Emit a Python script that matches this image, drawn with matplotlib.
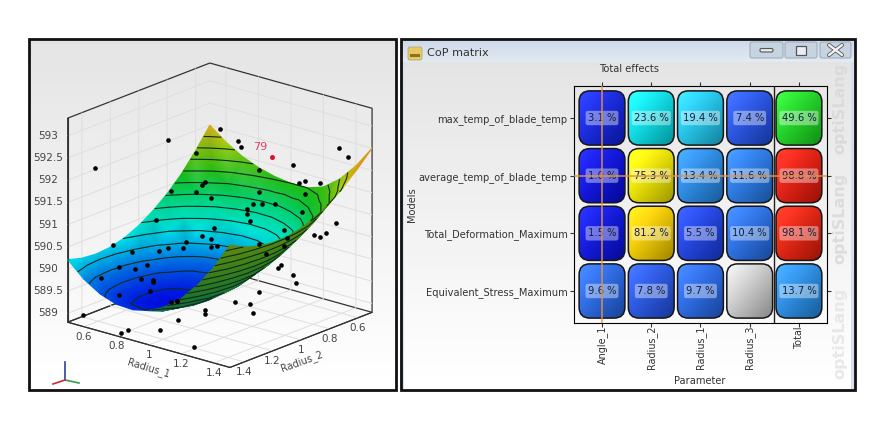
#!/usr/bin/env python
"""
Metamodel response surface and CoP matrix, two optiSLang screenshots side by side
"""

import numpy as np
import matplotlib as mpl
mpl.use('Agg')
from matplotlib import pyplot as pl
from matplotlib.colors import LinearSegmentedColormap
from matplotlib.patches import FancyBboxPatch, Rectangle
from matplotlib.tri import Triangulation
from mpl_toolkits.mplot3d import proj3d

mpl.rcParams.update({
    'font.family': 'DejaVu Sans',
    'font.size': 7,
    'grid.color': '#dedede',
    'grid.linewidth': 0.7,
    'axes.linewidth': 0.8,
})

# surface table, rows are Radius_2, columns Radius_1
radius_1 = [0.5, 0.6, 0.7, 0.8, 0.9, 1.0, 1.1, 1.2, 1.3, 1.4, 1.5]
radius_2 = [0.5, 0.6, 0.7, 0.8, 0.9, 1.0, 1.1, 1.2, 1.3, 1.4, 1.5]
surface = [
    [592.00, 591.72, 591.50, 591.35, 591.25, 591.20, 591.20, 591.32, 591.60, 592.00, 592.50],
    [591.55, 591.23, 590.97, 590.82, 590.73, 590.74, 590.86, 591.03, 591.31, 591.69, 592.17],
    [591.15, 590.82, 590.56, 590.40, 590.31, 590.33, 590.45, 590.65, 590.96, 591.36, 591.87],
    [590.83, 590.47, 590.20, 590.03, 589.95, 589.97, 590.10, 590.33, 590.65, 591.09, 591.63],
    [590.57, 590.18, 589.90, 589.73, 589.66, 589.69, 589.83, 590.08, 590.43, 590.88, 591.44],
    [590.36, 589.98, 589.71, 589.54, 589.48, 589.53, 589.67, 589.93, 590.29, 590.75, 591.32],
    [590.21, 589.84, 589.58, 589.42, 589.37, 589.42, 589.57, 589.83, 590.20, 590.67, 591.25],
    [590.12, 589.76, 589.51, 589.35, 589.31, 589.37, 589.53, 589.80, 590.17, 590.65, 591.24],
    [590.09, 589.74, 589.49, 589.35, 589.31, 589.38, 589.55, 589.82, 590.21, 590.69, 591.29],
    [590.12, 589.77, 589.53, 589.40, 589.37, 589.44, 589.62, 589.91, 590.30, 590.79, 591.39],
    [590.21, 589.87, 589.64, 589.51, 589.49, 589.57, 589.76, 590.05, 590.45, 590.95, 591.56],
]

# design points
pts_r1 = [0.59, 0.83, 1.00, 1.06, 1.07, 0.92, 1.39, 1.42, 1.24, 1.13, 1.26, 1.28, 1.33, 1.28,
          0.95, 0.94, 0.84, 0.92, 0.97, 1.13, 1.11, 1.14, 1.18, 1.09, 1.09, 1.27, 1.10, 0.79,
          0.98, 1.38, 1.21, 1.31, 1.33, 1.35, 1.22, 0.94, 0.97, 0.89, 0.97, 0.99, 1.13, 1.21,
          0.65, 0.83, 0.88, 0.80, 0.71, 1.15, 0.67, 0.72, 0.76, 1.20, 1.19, 0.61, 0.74, 0.78,
          0.78, 1.24, 1.25, 0.77, 0.67, 1.13, 0.84, 0.86, 0.86, 1.05, 1.10, 1.11, 0.95, 0.95,
          0.55, 0.90, 0.92, 0.81, 0.81, 1.26]
pts_r2 = [1.41, 1.17, 1.00, 0.94, 0.93, 1.08, 0.61, 0.58, 0.76, 0.87, 0.74, 0.72, 0.67, 0.72,
          1.05, 1.06, 1.16, 1.08, 1.03, 0.87, 0.89, 0.86, 0.82, 0.91, 0.91, 0.73, 0.90, 1.21,
          1.02, 0.62, 0.79, 0.69, 0.67, 0.65, 0.78, 1.06, 1.03, 1.11, 1.03, 1.01, 0.87, 0.79,
          1.35, 1.17, 1.12, 1.20, 1.29, 0.85, 1.33, 1.28, 1.24, 0.80, 0.81, 1.39, 1.26, 1.22,
          1.22, 0.76, 0.75, 1.23, 1.33, 0.87, 1.16, 1.14, 1.14, 0.95, 0.90, 0.89, 1.05, 1.05,
          1.45, 1.18, 1.33, 1.43, 1.48, 1.48]
pts_z = [592.26, 592.83, 593.04, 592.75, 592.63, 592.51, 592.52, 592.33, 592.18, 592.10, 591.76, 591.82, 591.76, 591.51,
         591.87, 591.79, 591.69, 591.64, 591.49, 591.60, 591.32, 591.33, 591.31, 591.21, 591.10, 591.11, 590.94, 591.04,
         590.82, 590.83, 590.71, 590.59, 590.53, 590.62, 590.54, 590.65, 590.56, 590.51, 590.40, 590.42, 590.42, 590.35,
         590.51, 590.39, 590.38, 590.33, 590.33, 590.19, 590.00, 589.95, 590.03, 589.94, 589.87, 589.77, 589.71, 589.70,
         589.65, 589.70, 589.52, 589.44, 589.37, 589.34, 589.19, 589.19, 589.20, 589.13, 589.07, 588.87, 588.98, 588.88,
         588.96, 588.85, 588.85, 588.85, 588.85, 589.00]
best_r1, best_r2, best_z = 1.17, 0.83, 592.37

r_ticks = [0.6, 0.8, 1, 1.2, 1.4]
r_ticklabels = ['0.6', '0.8', '1', '1.2', '1.4']
z_ticks = [589, 589.5, 590, 590.5, 591, 591.5, 592, 592.5, 593]
z_ticklabels = ['589', '589.5', '590', '590.5', '591', '591.5', '592', '592.5', '593']
contour_levels = [589.4, 589.6, 589.8, 590.0, 590.2, 590.4, 590.6, 590.8, 591.0, 591.2, 591.4, 591.6, 591.8]

# CoP matrix
models = ['max_temp_of_blade_temp', 'average_temp_of_blade_temp',
          'Total_Deformation_Maximum', 'Equivalent_Stress_Maximum']
parameters = ['Angle_1', 'Radius_2', 'Radius_1', 'Radius_3', 'Total']
cop = [[3.1, 23.6, 19.4, 7.4, 49.6],
       [1.0, 75.3, 13.4, 11.6, 98.8],
       [1.5, 81.2, 5.5, 10.4, 98.1],
       [9.6, 7.8, 9.7, None, 13.7]]

W, H = 891, 430
ELEV, AZIM = 19.2, 40.3
BOX = (657, 636, 646)
XLIM, YLIM, ZLIM = (0.5, 1.5), (0.5, 1.5), (588.8, 593.4)

surf_cmap = LinearSegmentedColormap.from_list('surf', [
    (0.00, '#0000e0'), (0.18, '#0070e0'), (0.34, '#00e8e8'), (0.50, '#00d890'),
    (0.66, '#10b810'), (0.80, '#70c010'), (0.92, '#e0d818'), (1.00, '#d89018')])
under_cmap = LinearSegmentedColormap.from_list('under', ['#0c6a40', '#2c7a20', '#5a8a10', '#8a8a20'])
cop_cmap = LinearSegmentedColormap.from_list('cop', [
    (0.00, '#0808e8'), (0.08, '#2a60f0'), (0.14, '#2a96f0'), (0.20, '#20d8f8'), (0.25, '#00f0f0'),
    (0.50, '#20e020'), (0.76, '#fff000'), (0.84, '#ffc800'), (1.00, '#f01010')])

fig = pl.figure(figsize=(W / 100, H / 100), dpi=100, facecolor='white')

# ---- background, frames and window chrome in pixel coordinates
bg = fig.add_axes([0, 0, 1, 1], zorder=0)
grad = np.linspace(0, 1, 64).reshape(-1, 1)
bg.imshow(228 + 27 * grad, cmap='gray', vmin=0, vmax=255, extent=(29, 396, 390, 39), aspect='auto')
bg.imshow(228 + 27 * grad, cmap='gray', vmin=0, vmax=255, extent=(404, 851, 390, 62), aspect='auto')
title_rgb = np.linspace([0.80, 0.85, 0.91], [0.89, 0.92, 0.95], 32).reshape(-1, 1, 3)
bg.imshow(title_rgb, extent=(401, 855, 62, 39), aspect='auto')
bg.add_patch(Rectangle((400, 62), 4, 328, fc='#d5dfea', ec='none'))
bg.add_patch(Rectangle((851, 62), 4, 328, fc='#d5dfea', ec='none'))
bg.add_patch(Rectangle((29, 39), 367, 351, fc='none', ec='#111111', lw=2))
bg.add_patch(Rectangle((400.5, 38.5), 454.5, 351.5, fc='none', ec='#111111', lw=2))
bg.add_patch(FancyBboxPatch((408, 47), 14, 13, boxstyle='round,pad=0,rounding_size=2',
                            fc='#e8c860', ec='#b0a880', lw=0.6))
bg.add_patch(Rectangle((410, 54), 10, 2.5, fc='#8a7020', ec='none'))
bg.text(427, 53, 'CoP matrix', fontsize=8.1, color='#333333', va='center')
for x0, x1 in [(750, 783), (785, 817), (820, 851)]:
    bg.add_patch(FancyBboxPatch((x0, 42), x1 - x0, 16, boxstyle='round,pad=0,rounding_size=2',
                                fc='#c6d4e2', ec='#9aa8b8', lw=0.7))
bg.add_patch(FancyBboxPatch((760, 48.5), 13, 3.5, boxstyle='round,pad=0,rounding_size=1.5',
                            fc='#e8e8e8', ec='#555555', lw=0.8))
bg.add_patch(Rectangle((796, 45.5), 10, 9, fc='#e8eef4', ec='#555555', lw=0.9))
bg.plot([829, 842], [45, 55], color='#666666', lw=3, solid_capstyle='round')
bg.plot([829, 842], [55, 45], color='#666666', lw=3, solid_capstyle='round')
bg.plot([829, 842], [45, 55], color='#f4f4f4', lw=1.6, solid_capstyle='round')
bg.plot([829, 842], [55, 45], color='#f4f4f4', lw=1.6, solid_capstyle='round')
for yc, wm in [(108, '#dadada'), (218, '#dcdcdc'), (333, '#e8e8e8')]:
    bg.text(840, yc, 'optiSLang', rotation=90, fontsize=11.5, fontweight='bold', color=wm,
            ha='center', va='center')
# little coordinate triad
bg.plot([65, 65], [380, 362], color='#3040a0', lw=1.2)
bg.plot([65, 79], [380, 383], color='#30a040', lw=1.2)
bg.plot([65, 53], [380, 384], color='#c03030', lw=1.2)
bg.set_xlim(0, W)
bg.set_ylim(H, 0)
bg.axis('off')

# ---- box and grid of the response surface, tick labels go on the overlay
ax3 = fig.add_axes([0.0003, -0.014, 0.48, 1.0], projection='3d', proj_type='ortho', zorder=1)
ax3.patch.set_alpha(0)
ax3.view_init(elev=ELEV, azim=AZIM)
ax3.set_box_aspect(BOX, zoom=0.85)
ax3.set_xlim(*XLIM)
ax3.set_ylim(*YLIM)
ax3.set_zlim(*ZLIM)
ax3.set_xticks(r_ticks)
ax3.set_yticks(r_ticks)
ax3.set_zticks(z_ticks)
ax3.set_xticklabels([])
ax3.set_yticklabels([])
ax3.set_zticklabels([])
for axis in (ax3.xaxis, ax3.yaxis, ax3.zaxis):
    axis.pane.set_facecolor((1, 1, 1, 0))
    axis.pane.set_alpha(None)
    axis.pane.set_edgecolor('#333333')
    axis.pane.set_linewidth(0.9)
    axis.line.set_color('#333333')
    axis._axinfo['tick']['inward_factor'] = 0
    axis._axinfo['tick']['outward_factor'] = 0

fig.canvas.draw()


def to_pixels(r2, r1, z):
    # project data through the 3d axes into figure pixels
    px, py, _ = proj3d.proj_transform(np.asarray(r2, float), np.asarray(r1, float), np.asarray(z, float), ax3.get_proj())
    return ax3.transData.transform(np.column_stack([px, py])).T


# ---- surface, drawn on a flat overlay so the colours can be gouraud shaded
mesh = fig.add_axes([0, 0, 1, 1], zorder=1.5)
mesh.patch.set_alpha(0)
mesh.axis('off')

R1, R2 = np.meshgrid(radius_1, radius_2)
Z = np.array(surface)
sx, sy = to_pixels(R2.ravel(), R1.ravel(), Z.ravel())
nr, nc = Z.shape


def signed_area(a, b, c, d):
    xs, ys = sx[[a, b, c, d]], sy[[a, b, c, d]]
    return 0.5 * np.sum(xs * np.roll(ys, -1) - np.roll(xs, -1) * ys)


top_side = np.sign(signed_area(7 * nc + 4, 7 * nc + 5, 8 * nc + 5, 8 * nc + 4))
top_tris, under_tris = [], []
for i in range(nr - 1):
    for j in range(nc - 1):
        a, b, c, d = i * nc + j, i * nc + j + 1, (i + 1) * nc + j + 1, (i + 1) * nc + j
        target = top_tris if signed_area(a, b, c, d) * top_side > 0 else under_tris
        target += [[a, b, c], [a, c, d]]

z_flat = Z.ravel()
tri_top = Triangulation(sx, sy, top_tris)
mesh.tripcolor(tri_top, z_flat, shading='gouraud', cmap=surf_cmap, vmin=589.25, vmax=592.1, zorder=1)
mesh.tricontour(tri_top, z_flat, levels=contour_levels, colors='#0c2a1c', linewidths=0.8, zorder=2)
tri_under = Triangulation(sx, sy, under_tris)
mesh.tripcolor(tri_under, z_flat, shading='gouraud', cmap=under_cmap, vmin=589.4, vmax=592.4, zorder=3)
mesh.tricontour(tri_under, z_flat, levels=contour_levels, colors='#0c2a1c', linewidths=0.8, zorder=4)

px, py = to_pixels(pts_r2, pts_r1, pts_z)
mesh.scatter(px, py, color='black', s=11, linewidths=0, zorder=5)
bx, by = to_pixels([best_r2], [best_r1], [best_z])
mesh.scatter(bx, by, color='#e01030', s=13, linewidths=0, zorder=6)
mesh.annotate('79', (bx[0], by[0]), xytext=(-3, 4), textcoords='offset points', color='#e04060',
              fontsize=8, ha='right', va='bottom', zorder=6)

# tick labels and axis names of the box
tick_font = dict(fontsize=7.5, color='#444444', ha='center', va='center', textcoords='offset pixels', zorder=7)
for val, lab in zip(z_ticks, z_ticklabels):
    tx, ty = to_pixels([0.5], [0.5], [val])
    lx, ly = to_pixels([1.5], [0.5], [val])
    mesh.annotate(lab, (lx[0], ly[0]), xytext=(-20, 0), **tick_font)
for val, lab in zip(r_ticks, r_ticklabels):
    tx, ty = to_pixels([1.5], [val], [ZLIM[0]])
    mesh.annotate(lab, (tx[0], ty[0]), xytext=(0, -10), **tick_font)
    tx, ty = to_pixels([val], [1.5], [ZLIM[0]])
    mesh.annotate(lab, (tx[0], ty[0]), xytext=(0, -10), **tick_font)
tx, ty = to_pixels([1.5], [1.0], [ZLIM[0]])
mesh.annotate('Radius_1', (tx[0], ty[0]), xytext=(0, -23), rotation=-17, **{**tick_font, 'fontsize': 7})
tx, ty = to_pixels([1.0], [1.5], [ZLIM[0]])
mesh.annotate('Radius_2', (tx[0], ty[0]), xytext=(1, -21), rotation=20, **{**tick_font, 'fontsize': 7})
mesh.set_xlim(0, W)
mesh.set_ylim(0, H)

# ---- CoP matrix
ax = fig.add_axes([573.7 / W, 1 - 322.7 / H, (827 - 573.7) / W, (322.7 - 85.7) / H], zorder=2)
ax.patch.set_alpha(0)
cell_w, cell_h = 0.93, 0.94
xpx, ypx = 49.2, 57.6
u, v = np.meshgrid(np.linspace(0, 1, 48), np.linspace(0, 1, 48))
t = (u + v) / 2
shade_dark = 1 - 0.38 * t[..., None] ** 1.6
shade_light = 0.14 * (1 - t[..., None]) ** 2
for row, vals in enumerate(cop):
    for col, val in enumerate(vals):
        x0, y0 = col - cell_w / 2, row - cell_h / 2
        base = np.array(cop_cmap((val or 0) / 100)[:3]) if val is not None else np.array([0.84, 0.84, 0.84])
        patch = FancyBboxPatch((x0, y0), cell_w, cell_h, boxstyle='round,pad=0,rounding_size=0.22',
                               mutation_aspect=xpx / ypx, fc='none', ec='#151515', lw=1.1, zorder=3)
        ax.add_patch(patch)
        rgb = np.clip(base * shade_dark + shade_light, 0, 1)
        im = ax.imshow(rgb, extent=(x0, x0 + cell_w, y0 + cell_h, y0), aspect='auto', zorder=2)
        im.set_clip_path(patch)
        if val is not None:
            ax.text(col, row, '%.1f %%' % val, ha='center', va='center', fontsize=7.2, color='#10203a', zorder=5,
                    bbox=dict(boxstyle='round,pad=0.22', fc='white', ec='none', alpha=0.4))

ax.axvline(3.5, color='#222222', lw=1, zorder=4)
ax.axvline(0, color='#e89040', lw=1.3, alpha=0.8, zorder=6)
ax.axhline(1, color='#e89040', lw=1.3, alpha=0.8, zorder=6)
ax.set_xlim(-0.575, 4.57)
ax.set_ylim(3.55, -0.56)
ax.set_xticks(range(len(parameters)))
ax.set_xticklabels(parameters, rotation=90, color='#333333', fontsize=6.9)
ax.set_yticks(range(len(models)))
ax.set_yticklabels(models, color='#333333', fontsize=7.1)
ax.tick_params(top=True, right=True, length=3, width=0.8, pad=1.5, color='#333333')
ax.tick_params(axis='x', pad=-1)

fig.text(629 / W, 1 - 69 / H, 'Total effects', ha='center', va='center', fontsize=7.1, color='#333333')
fig.text(700 / W, 1 - 381 / H, 'Parameter', ha='center', va='center', fontsize=7.1, color='#333333')
fig.text(412 / W, 1 - 205 / H, 'Models', ha='center', va='center', rotation=90, fontsize=7.1, color='#333333')

fig.savefig('out.png', dpi=100)
